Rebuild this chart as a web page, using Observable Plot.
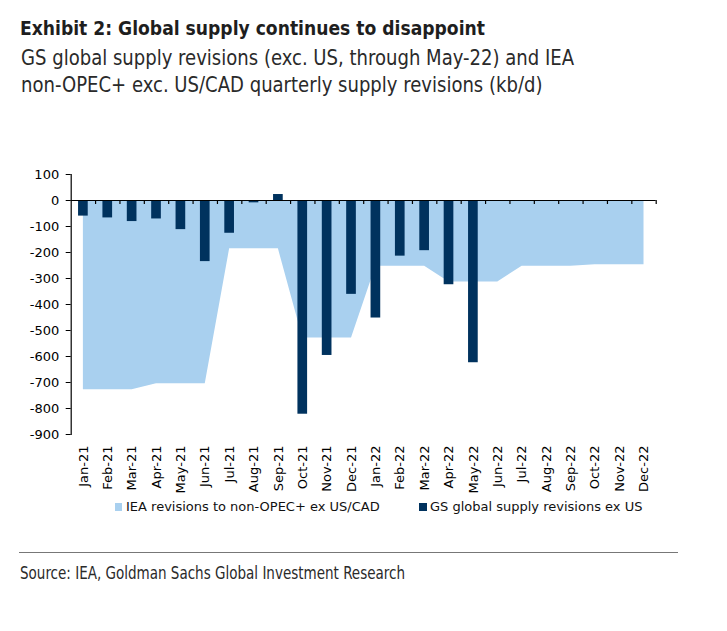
<!DOCTYPE html>
<html><head><meta charset="utf-8">
<script src="https://cdn.jsdelivr.net/npm/d3@7"></script>
<script src="https://cdn.jsdelivr.net/npm/@observablehq/plot@0.6"></script>
<style>
body{margin:0;background:#fff;}
#wrap{position:relative;width:727px;height:631px;overflow:hidden;background:#fff;}
.narrow{font-family:"Liberation Sans Narrow","DejaVu Sans Condensed","Liberation Sans",sans-serif;transform-origin:0 0;}
#title{position:absolute;left:20px;top:17px;font-size:19.6px;line-height:24px;font-weight:bold;color:#1e1e1e;white-space:nowrap;}
#sub{position:absolute;left:20.5px;top:44px;font-size:21.5px;line-height:27.4px;color:#2a2a2a;white-space:nowrap;}
#chart{position:absolute;left:0;top:110px;}
.leg{position:absolute;top:500px;font-family:"DejaVu Sans",sans-serif;font-size:13px;line-height:14px;color:#111;white-space:nowrap;}
.sw{position:absolute;top:503.3px;width:7.4px;height:7.7px;}
#rule{position:absolute;left:19px;top:551.5px;width:659px;height:1.5px;background:#777;}
#src{position:absolute;left:20px;top:563.4px;font-size:18px;line-height:20px;color:#2a2a2a;white-space:nowrap;}
</style></head>
<body><div id="wrap">
<div id="title" class="narrow"><span id="t1">Exhibit 2: Global supply continues to disappoint</span></div>
<div id="sub" class="narrow"><span id="s1">GS global supply revisions (exc. US, through May-22) and IEA</span><br>non-OPEC+ exc. US/CAD quarterly supply revisions (kb/d)</div>
<div id="chart"></div>
<div class="sw" id="sw1"></div><div class="leg" id="leg1"></div>
<div class="sw" id="sw2"></div><div class="leg" id="leg2"></div>
<div id="rule"></div>
<div id="src" class="narrow"><span id="c1">Source: IEA, Goldman Sachs Global Investment Research</span></div>
</div>
<script>
const months = ["Jan-21","Feb-21","Mar-21","Apr-21","May-21","Jun-21","Jul-21","Aug-21","Sep-21","Oct-21","Nov-21","Dec-21",
                "Jan-22","Feb-22","Mar-22","Apr-22","May-22","Jun-22","Jul-22","Aug-22","Sep-22","Oct-22","Nov-22","Dec-22"];
const ieaRevisions = [-728,-728,-728,-705,-705,-705,-186,-186,-186,-529,-529,-529,
                      -253,-253,-253,-313,-313,-313,-253,-253,-253,-247,-247,-247];
const gsRevisions = [-60,-67,-81,-71,-112,-235,-126,-9,23,-822,-596,-361,
                     -452,-214,-193,-324,-624];
const yTicks = [100,0,-100,-200,-300,-400,-500,-600,-700,-800,-900];
const seriesNames = ["IEA revisions to non-OPEC+ ex US/CAD","GS global supply revisions ex US"];
const colors = ["#a9d0ef","#00325e"];

const ieaData = months.map((m,i)=>({month:m, value:ieaRevisions[i]}));
const gsData = gsRevisions.map((v,i)=>({month:months[i], value:v}));

const W = 727, H = 390, mL = 70.7, mR = 71.3, mT = 64, mB = 66;
const bw = (W - mL - mR) / months.length;

const plot = Plot.plot({
  width: W, height: H,
  marginLeft: mL, marginRight: mR, marginTop: mT, marginBottom: mB,
  style: {background: "transparent", color: "#000", fontFamily: "'DejaVu Sans', sans-serif", fontSize: "13px"},
  x: {type: "band", domain: months, padding: 0, round: false},
  y: {domain: [-900, 100]},
  marks: [
    Plot.areaY(ieaData, {x: "month", y1: 0, y2: "value", fill: colors[0], curve: "linear"}),
    Plot.barY(gsData, {x: "month", y1: 0, y2: "value", fill: colors[1], insetLeft: 7.35, insetRight: 7.35}),
    Plot.ruleY([0], {stroke: "#000", strokeWidth: 1.2}),
    Plot.ruleX(months, {x: d => d, y1: 0, y2: 0, dx: bw/2, insetBottom: -4, stroke: "#000", strokeWidth: 1.2}),
    Plot.frame({anchor: "left", stroke: "#000", strokeWidth: 1.2}),
    Plot.axisY({ticks: yTicks, tickSize: 5, tickPadding: 7, tickFormat: d => String(d), label: null, stroke: "#000"}),
    Plot.axisX({tickSize: 0, tickPadding: 11, tickRotate: -90, label: null})
  ]
});
document.getElementById("chart").appendChild(plot);

const sw1 = document.getElementById("sw1"), sw2 = document.getElementById("sw2");
const l1 = document.getElementById("leg1"), l2 = document.getElementById("leg2");
sw1.style.left = "115px"; sw1.style.background = colors[0];
l1.style.left = "126px"; l1.textContent = seriesNames[0];
sw2.style.left = "419.3px"; sw2.style.background = colors[1];
l2.style.left = "430px"; l2.textContent = seriesNames[1];

// fit condensed text widths to the reference widths
function fit(boxId, spanId, target) {
  const w = document.getElementById(spanId).getBoundingClientRect().width;
  if (w > 0) document.getElementById(boxId).style.transform = `scaleX(${target / w})`;
}
fit("title", "t1", 465);
fit("sub", "s1", 553);
fit("src", "c1", 385);
</script>
</body></html>
